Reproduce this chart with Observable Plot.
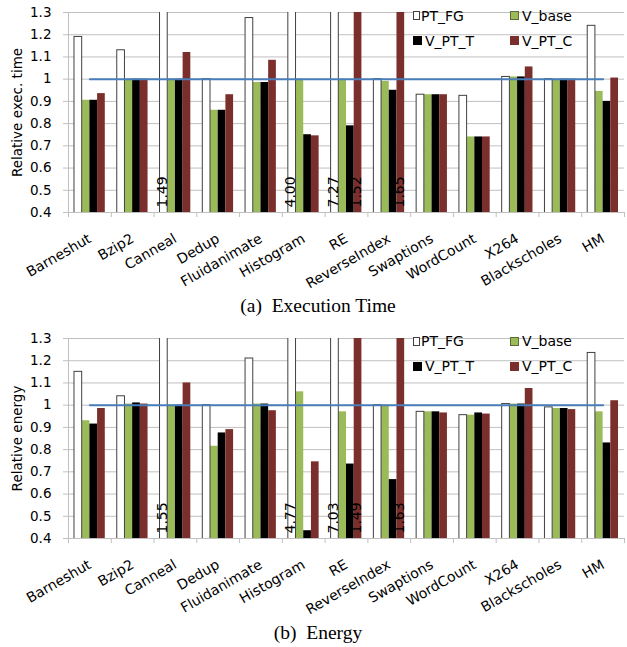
<!DOCTYPE html>
<html>
<head>
<meta charset="utf-8">
<script src="https://cdn.jsdelivr.net/npm/d3@7"></script>
<script src="https://cdn.jsdelivr.net/npm/@observablehq/plot@0.6"></script>
<style>
  body { margin: 0; background: #fff; }
  #wrap { position: relative; width: 627px; height: 647px; overflow: hidden; }
  .panel { position: absolute; left: 0; }
  .caption { position: absolute; left: 0; width: 636px; text-align: center;
             font-family: "Liberation Serif", serif; font-size: 19.5px; line-height: 20px; color: #000; }
  .legend { position: absolute; left: 0; top: 0; font-family: "DejaVu Sans", sans-serif; font-size: 14px; color: #000; }
  .item { position: absolute; white-space: nowrap; }
  .swatch { position: absolute; width: 9px; height: 9px; box-sizing: border-box; }
</style>
</head>
<body>
<div id="wrap"></div>
<script>
// ---- data ----
const categories = ["Barneshut","Bzip2","Canneal","Dedup","Fluidanimate","Histogram","RE","ReverseIndex","Swaptions","WordCount","X264","Blackscholes","HM"];
const series = ["PT_FG","V_base","V_PT_T","V_PT_C"];
const yTicks = [0.4,0.5,0.6,0.7,0.8,0.9,1,1.1,1.2,1.3];
const baselineValue = 1;

// (a) Execution time
const timePT_FG  = [1.19, 1.13, 1.49, 1.00, 1.275, 4.00, 7.27, 1.00, 0.93, 0.925, 1.01, 1.00, 1.24];
const timeV_base = [0.905,1.00, 1.00, 0.86, 0.985, 1.00, 1.00, 0.99, 0.93, 0.74, 1.01, 1.00, 0.945];
const timeV_PT_T = [0.905,1.00, 1.00, 0.86, 0.985, 0.75, 0.79, 0.95, 0.93, 0.74, 1.01, 1.00, 0.90];
const timeV_PT_C = [0.935,1.00, 1.12, 0.93, 1.085, 0.745,1.52, 1.65, 0.93, 0.74, 1.055,1.00, 1.005];

// (b) Energy
const energyPT_FG  = [1.15, 1.04, 1.55, 1.00, 1.21, 4.77, 7.03, 1.00, 0.97, 0.955, 1.005, 0.99, 1.235];
const energyV_base = [0.93, 1.005,1.00, 0.815,1.005,1.06, 0.97, 1.00, 0.97, 0.955, 1.005, 0.985,0.97];
const energyV_PT_T = [0.915,1.01, 1.00, 0.875,1.005,0.435,0.735,0.665,0.97, 0.965, 1.005, 0.985,0.83];
const energyV_PT_C = [0.985,1.005,1.10, 0.89, 0.975,0.745,1.49, 1.63, 0.965,0.96,  1.075, 0.98, 1.02];

// ---- styles ----
const seriesColors = ["#ffffff", "#9bbb59", "#000000", "#7b2f2c"];
const gridColor = "#c0c0c0";
const barWidth = 0.18; // share of one category slot per bar

function panel(values, yLabel) {
  const n = categories.length;
  const xDomain = [-0.5, n - 0.5];
  const yDomain = [yTicks[0], yTicks[yTicks.length - 1]];
  const rows = categories.flatMap((cat, i) => series.map((s, j) => ({cat, i, s, j, v: values[j][i]})));
  const left = d => d.i + (d.j - series.length / 2) * barWidth;
  const right = d => left(d) + barWidth;
  const mid = d => left(d) + barWidth / 2;
  return Plot.plot({
    width: 627, height: 292,
    marginLeft: 68, marginRight: 3, marginTop: 12, marginBottom: 80,
    style: {fontFamily: "DejaVu Sans", fontSize: "13.5px", color: "#000", background: "transparent"},
    x: {type: "linear", domain: xDomain},
    y: {domain: yDomain},
    color: {domain: series, range: seriesColors},
    marks: [
      Plot.gridY(yTicks, {stroke: gridColor, strokeOpacity: 1}),
      Plot.axisY({ticks: yTicks, tickSize: 5, tickPadding: 12, stroke: gridColor, fill: "#000",
                  tickFormat: d => String(d), label: yLabel, labelAnchor: "center", labelArrow: "none", labelOffset: 56}),
      Plot.ruleX([xDomain[0]], {stroke: gridColor}),
      Plot.rect(rows.filter(d => d.s !== "PT_FG"), {x1: left, x2: right, y1: 0, y2: "v", fill: "s", clip: true}),
      Plot.rect(rows.filter(d => d.s === "PT_FG"), {x1: left, x2: right, y1: 0, y2: "v", fill: "#fff", stroke: "#404040", clip: true}),
      Plot.ruleY([yDomain[0]], {stroke: gridColor}),
      Plot.axisX({ticks: d3.range(n + 1).map(k => k - 0.5), tickSize: 5, tickFormat: () => "", stroke: gridColor, label: null}),
      Plot.axisX({ticks: d3.range(n), tickSize: 0, tickPadding: 25, tickRotate: -30, tickFormat: k => categories[k],
                  fill: "#000", fontSize: 14, label: null}),
      Plot.line(categories, {x: (c, i) => i, y: () => baselineValue, stroke: "#4a7ebb", strokeWidth: 2}),
      Plot.text(rows.filter(d => d.v > yDomain[1]), {x: mid, frameAnchor: "bottom", text: d => d.v.toFixed(2),
                rotate: -90, textAnchor: "start", dx: 3, dy: -5, fontSize: 14, fill: "#000"})
    ]
  });
}

function legend(top) {
  const div = document.createElement("div");
  div.className = "legend";
  div.style.top = top + "px";
  const pos = [[413, 11], [510, 11], [413, 36], [510, 36]];
  series.forEach((s, k) => {
    const sw = document.createElement("div");
    sw.className = "swatch";
    sw.style.left = pos[k][0] + "px";
    sw.style.top = pos[k][1] + "px";
    sw.style.background = seriesColors[k];
    if (k === 0) { sw.style.border = "1px solid #404040"; sw.style.width = "7px"; }
    if (k === 1) sw.style.border = "1px solid #5a6b35";
    div.appendChild(sw);
    const t = document.createElement("div");
    t.className = "item";
    t.textContent = s;
    t.style.left = (pos[k][0] + (k === 0 ? 8 : 12)) + "px";
    t.style.top = (pos[k][1] - 3.5) + "px";
    div.appendChild(t);
  });
  return div;
}

const wrap = document.getElementById("wrap");
const a = panel([timePT_FG, timeV_base, timeV_PT_T, timeV_PT_C], "Relative exec. time");
a.classList.add("panel"); a.style.top = "0px";
wrap.appendChild(a);
wrap.appendChild(legend(0));
const capA = document.createElement("div");
capA.className = "caption"; capA.style.top = "296px"; capA.textContent = "(a)\u00a0 Execution Time";
wrap.appendChild(capA);

const b = panel([energyPT_FG, energyV_base, energyV_PT_T, energyV_PT_C], "Relative energy");
b.classList.add("panel"); b.style.top = "325.5px";
wrap.appendChild(b);
wrap.appendChild(legend(325.5));
const capB = document.createElement("div");
capB.className = "caption"; capB.style.top = "623px"; capB.textContent = "(b)\u00a0 Energy";
wrap.appendChild(capB);
</script>
</body>
</html>
